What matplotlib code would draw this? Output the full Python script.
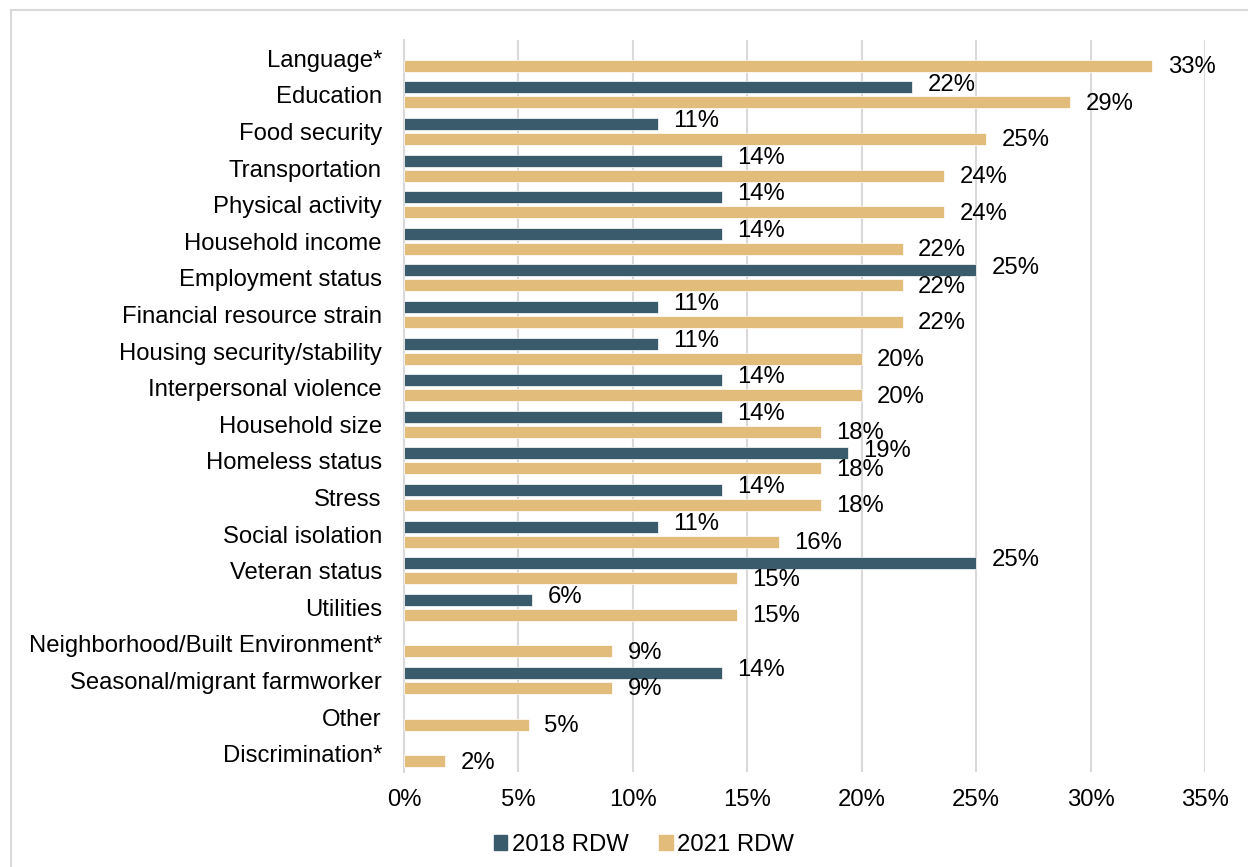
import matplotlib
matplotlib.use("Agg")
import matplotlib.pyplot as plt
from matplotlib.patches import Rectangle
import numpy as np

plt.rcParams["font.family"] = ["Liberation Sans", "DejaVu Sans"]

categories = [
    "Language*", "Education", "Food security", "Transportation",
    "Physical activity", "Household income", "Employment status",
    "Financial resource strain", "Housing security/stability",
    "Interpersonal violence", "Household size", "Homeless status", "Stress",
    "Social isolation", "Veteran status", "Utilities",
    "Neighborhood/Built Environment*", "Seasonal/migrant farmworker",
    "Other", "Discrimination*",
]

# Share of respondents (%); None where the item was not asked
rdw_2018 = [None, 22.2, 11.1, 13.9, 13.9, 13.9, 25.0, 11.1, 11.1, 13.9,
            13.9, 19.4, 13.9, 11.1, 25.0, 5.6, None, 13.9, None, None]
rdw_2021 = [32.7, 29.1, 25.45, 23.6, 23.6, 21.8, 21.8, 21.8, 20.0, 20.0,
            18.2, 18.2, 18.2, 16.4, 14.55, 14.55, 9.1, 9.1, 5.45, 1.8]

series_names = ["2018 RDW", "2021 RDW"]
xticks = [0, 5, 10, 15, 20, 25, 30, 35]

c2018 = "#3A5B6B"
c2021 = "#E1BC7A"
fs = 17.2

W, H = 1248, 867
fig = plt.figure(figsize=(W / 100, H / 100), dpi=100)
fig.patch.set_facecolor("white")

# thin grey frame around the chart area
fig.add_artist(Rectangle((11 / W, -0.05), 1.2, 1 - 10 / H + 0.05,
                         transform=fig.transFigure, fill=False,
                         edgecolor="#d9d9d9", linewidth=1.5))

ax = fig.add_axes([404 / W, 1 - 772 / H, (1205 - 404) / W, (772 - 40) / H])

y = np.arange(len(categories))
off = 0.205
h = 0.33

for i, v in enumerate(rdw_2018):
    if v is None:
        continue
    ax.barh(y[i] - off, v, height=h, color=c2018, edgecolor="white",
            linewidth=0.5, zorder=3)
    ax.annotate(f"{v:.0f}%", (v, y[i] - off), xytext=(11, 2),
                textcoords="offset points", va="center", ha="left",
                fontsize=fs, color="black")

for i, v in enumerate(rdw_2021):
    if v is None:
        continue
    ax.barh(y[i] + off, v, height=h, color=c2021, edgecolor="white",
            linewidth=0.5, zorder=3)
    ax.annotate(f"{v:.0f}%", (v, y[i] + off), xytext=(11, -1),
                textcoords="offset points", va="center", ha="left",
                fontsize=fs, color="black")

ax.set_ylim(len(categories) - 0.5, -0.5)
ax.set_xlim(0, 35)
ax.set_yticks(y)
ax.set_yticklabels(categories, fontsize=fs)
ax.set_xticks(xticks)
ax.set_xticklabels([f"{t}%" for t in xticks], fontsize=fs)
ax.tick_params(axis="y", length=0, pad=16)
ax.tick_params(axis="x", length=0, pad=12)

ax.grid(axis="x", color="#d9d9d9", linewidth=1.5, zorder=0)
for s in ["top", "right", "bottom"]:
    ax.spines[s].set_visible(False)
ax.spines["left"].set_color("#d9d9d9")
ax.spines["left"].set_linewidth(1.5)
ax.set_axisbelow(True)

handles = [Rectangle((0, 0), 1, 1, color=c2018),
           Rectangle((0, 0), 1, 1, color=c2021)]
fig.legend(handles, series_names, loc="center",
           bbox_to_anchor=(644 / W, 1 - 845 / H), ncol=2, frameon=False,
           fontsize=fs, handlelength=0.55, handleheight=0.55,
           handletextpad=0.2, columnspacing=1.3)

fig.savefig("out.png", dpi=100, facecolor="white")
